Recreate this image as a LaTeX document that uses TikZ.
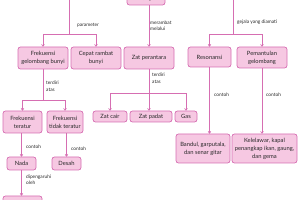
\documentclass[tikz,border=0pt]{standalone}
\usepackage{fontspec}
\setmainfont{Lato}
\usetikzlibrary{arrows.meta}
\definecolor{pfill}{RGB}{246,200,226}
\definecolor{pline}{RGB}{214,110,178}
\definecolor{ptext}{RGB}{40,40,40}
\tikzset{
 box/.style={draw=pline, fill=pfill, rounded corners=2.5pt, line width=0.7pt, align=center, inner sep=0pt, font=\fontsize{5.8}{8}\selectfont, text=ptext},
 lbl/.style={font=\fontsize{4.8}{6.5}\selectfont, align=left, anchor=west, inner sep=0pt, text=ptext},
 conn/.style={draw=pline, line width=0.6pt},
 arr/.style={conn, -{To[length=2.5pt,width=3.2pt]}},
}
\begin{document}
\begin{tikzpicture}[x=1pt,y=-1pt]
\useasboundingbox (0,0) rectangle (300,200);
% boxes
\node[box, minimum width=38, minimum height=13] (bunyi) at (146,-1.5) {Bunyi};
\node[box, minimum width=50, minimum height=22] (fgb) at (43,58) {Frekuensi\\gelombang bunyi};
\node[box, minimum width=50, minimum height=22] (crb) at (96,58) {Cepat rambat\\bunyi};
\node[box, minimum width=50, minimum height=22] (zp) at (149,58) {Zat perantara};
\node[box, minimum width=43, minimum height=20] (res) at (209.5,57) {Resonansi};
\node[box, minimum width=50, minimum height=21] (pem) at (262,57.5) {Pemantulan\\gelombang};
\node[box, minimum width=39, minimum height=22] (ft) at (22.5,122) {Frekuensi\\teratur};
\node[box, minimum width=36, minimum height=22] (ftt) at (65,122) {Frekuensi\\tidak teratur};
\node[box, minimum width=34, minimum height=11] (zc) at (110,116.5) {Zat cair};
\node[box, minimum width=42, minimum height=11] (zpd) at (151,116.5) {Zat padat};
\node[box, minimum width=22, minimum height=11] (gas) at (186,116.5) {Gas};
\node[box, minimum width=54, minimum height=29] (band) at (203,148.5) {Bandul, garputala,\\dan senar gitar};
\node[box, minimum width=65, minimum height=29] (kel) at (264.5,148.5) {Kelelawar, kapal\\penangkap ikan, gaung,\\dan gema};
\node[box, minimum width=29, minimum height=13] (nada) at (21.5,163.5) {Nada};
\node[box, minimum width=29, minimum height=13] (desah) at (66.5,163.5) {Desah};
\node[box, minimum width=39, minimum height=20] (amp) at (22.5,206) {Amplitudo};
% junctions
\coordinate (top1) at (69,-10);
\coordinate (j1) at (69,34);
\coordinate (top2) at (233,-10);
\coordinate (j2) at (233,34);
\coordinate (j3) at (43,100);
\coordinate (j4) at (149,93);
% connectors
\draw[conn] (top1) -- (j1);
\draw[arr] (j1) -| (fgb.north);
\draw[arr] (j1) -| (crb.north);
\draw[arr] (zp.north |- bunyi.south) -- (zp.north);
\draw[conn] (top2) -- (j2);
\draw[arr] (j2) -| (res.north);
\draw[arr] (j2) -| (pem.north);
\draw[conn] (fgb.south) -- (j3);
\draw[arr] (j3) -| (ft.north);
\draw[arr] (j3) -| (ftt.north);
\draw[conn] (zp.south) -- (j4);
\draw[arr] (j4) -| (zc.north);
\draw[arr] (j4) -- (zpd.north -| j4);
\draw[arr] (j4) -| (gas.north);
\draw[arr] (res.south) -- (res.south |- band.north);
\draw[arr] (pem.south) -- (pem.south |- kel.north);
\draw[arr] (nada.north |- ft.south) -- (nada.north);
\draw[arr] (desah.north |- ftt.south) -- (desah.north);
\draw[arr] (nada.south) -- (nada.south |- amp.north);
% labels
\node[lbl] (l1) at (77,25) {parameter};
\node[lbl] (l2) at (150,26) {merambat\\melalui};
\node[lbl] (l3) at (237,22) {gejala yang diamati};
\node[lbl] (l4) at (46,86.5) {terdiri\\atas};
\node[lbl] (l5) at (152,78.5) {terdiri\\atas};
\node[lbl] (l6) at (214,95) {contoh};
\node[lbl] (l7) at (266,95) {contoh};
\node[lbl] (l8) at (26,147) {contoh};
\node[lbl] (l9) at (71,149) {contoh};
\node[lbl] (l10) at (26,180) {dipengaruhi\\oleh};
\end{tikzpicture}
\end{document}
